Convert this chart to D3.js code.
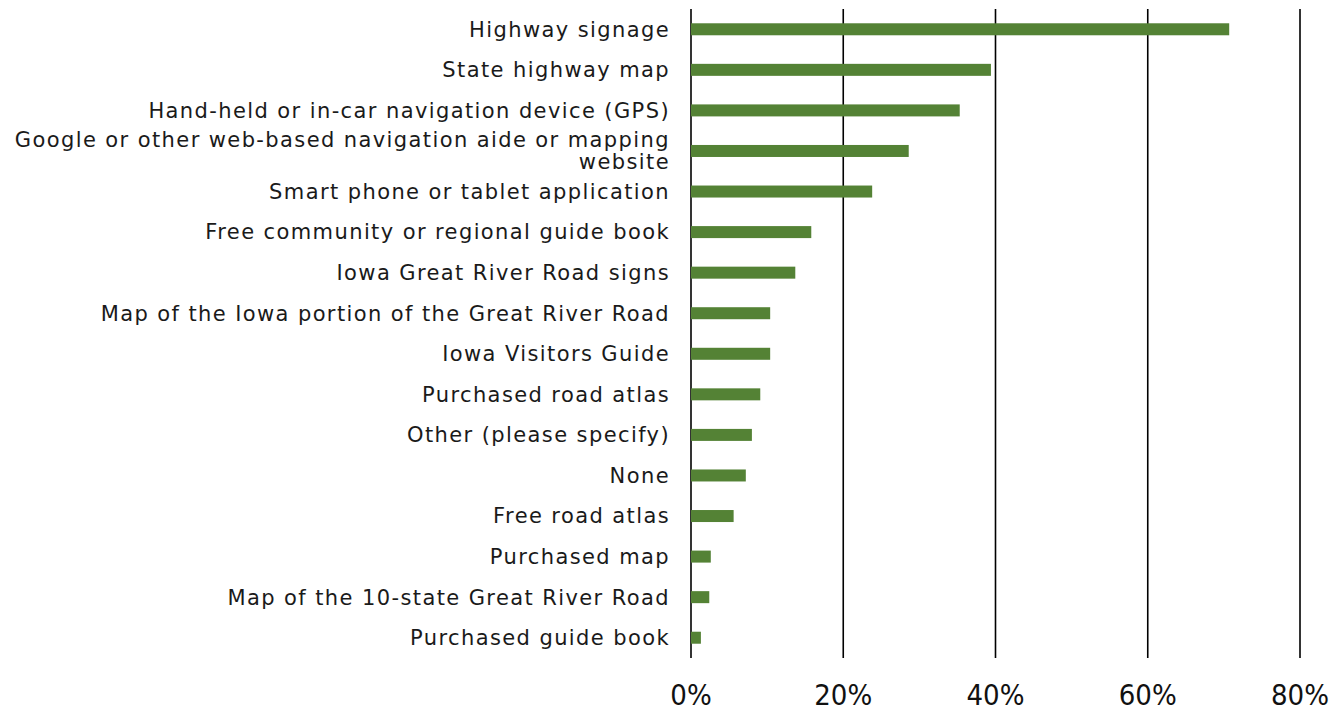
<!DOCTYPE html>
<html>
<head>
<meta charset="utf-8">
<style>
  body { margin: 0; background: white; }
  .label { font-family: "DejaVu Sans", sans-serif; font-size: 21px; letter-spacing: 1.4px; fill: #1a1a1a; }
  .tick-label { font-family: "Liberation Sans Narrow", "DejaVu Sans Condensed", sans-serif; font-size: 29px; fill: #111; }
</style>
</head>
<body>
<svg width="1341" height="711"></svg>
<script src="https://d3js.org/d3.v7.min.js"></script>
<script>
// categories top to bottom
let categories = [
  "Highway signage",
  "State highway map",
  "Hand-held or in-car navigation device (GPS)",
  "Google or other web-based navigation aide or mapping|website",
  "Smart phone or tablet application",
  "Free community or regional guide book",
  "Iowa Great River Road signs ",
  "Map of the Iowa portion of the Great River Road",
  "Iowa Visitors Guide",
  "Purchased road atlas",
  "Other (please specify)",
  "None",
  "Free road atlas",
  "Purchased map",
  "Map of the 10-state Great River Road",
  "Purchased guide book"
]
let values = [70.7, 39.4, 35.3, 28.6, 23.8, 15.8, 13.7, 10.4, 10.4, 9.1, 8.0, 7.2, 5.6, 2.6, 2.4, 1.3]
let tickValues = [0, 20, 40, 60, 80]

let svg = d3.select("svg")

let x = d3.scaleLinear()
  .domain([0, 80])
  .range([691, 1300])

let y = d3.scaleBand()
  .domain(categories)
  .range([9, 658])

// gridlines
svg.selectAll(".grid")
  .data(tickValues)
  .join("line")
  .attr("x1", d => x(d))
  .attr("x2", d => x(d))
  .attr("y1", 9)
  .attr("y2", 658)
  .style("stroke", "#000")
  .style("stroke-width", 1.6)

// bars
svg.selectAll(".bar")
  .data(categories)
  .join("rect")
  .attr("x", x(0))
  .attr("y", d => y(d) + y.bandwidth() / 2 - 6)
  .attr("width", (d, i) => x(values[i]) - x(0))
  .attr("height", 12)
  .style("fill", "#548235")

// category labels
let labels = svg.selectAll(".label")
  .data(categories)
  .join("text")
  .attr("class", "label")
  .attr("text-anchor", "end")
  .attr("x", 670)
  .attr("y", d => y(d) + y.bandwidth() / 2)

labels.each(function (d) {
  let lines = d.split("|")
  let t = d3.select(this)
  lines.forEach((line, j) => {
    t.append("tspan")
      .attr("x", 670)
      .attr("dy", j == 0 ? ((-(lines.length - 1) / 2) * 1.05 + 0.35) + "em" : "1.05em")
      .text(line.trim())
  })
})

// x tick labels
svg.selectAll(".tick-label")
  .data(tickValues)
  .join("text")
  .attr("class", "tick-label")
  .attr("text-anchor", "middle")
  .attr("x", d => x(d))
  .attr("y", 705)
  .text(d => d + "%")
</script>
</body>
</html>
